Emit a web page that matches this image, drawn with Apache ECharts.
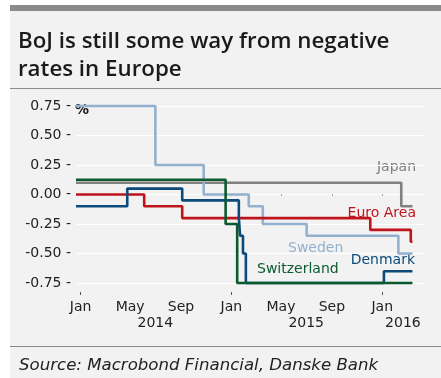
<!DOCTYPE html>
<html><head><meta charset="utf-8">
<script src="https://cdn.jsdelivr.net/npm/echarts@6/dist/echarts.min.js"></script>
<style>html,body{margin:0;padding:0;background:#fff}#c{width:441px;height:378px}</style>
</head><body><div id="c"></div>
<script>
// ---- data ----
const axisStart = '2013-12-21';
const axisEnd = '2016-04-11';
const dataEnd = '2016-03-14';

const japanDates  = ['2013-12-21', '2016-02-16', dataEnd];
const japanValues = [0.10, -0.10, -0.10];

const swedenDates  = ['2013-12-21', '2014-07-01', '2014-10-26', '2015-02-12', '2015-03-18', '2015-07-02', '2016-02-09', dataEnd];
const swedenValues = [0.75, 0.25, 0.00, -0.10, -0.25, -0.35, -0.50, -0.50];

const euroDates  = ['2013-12-21', '2014-06-04', '2014-09-04', '2015-12-03', '2016-03-10', dataEnd];
const euroValues = [0.00, -0.10, -0.20, -0.30, -0.40, -0.40];

const denmarkDates  = ['2013-12-21', '2014-04-24', '2014-09-04', '2015-01-19', '2015-01-22', '2015-01-29', '2015-02-05', '2016-01-05', dataEnd];
const denmarkValues = [-0.10, 0.05, -0.05, -0.20, -0.35, -0.50, -0.75, -0.65, -0.65];

const swissDates  = ['2013-12-21', '2014-12-18', '2015-01-15', dataEnd];
const swissValues = [0.125, -0.25, -0.75, -0.75];

const monthTickDates = ['2014-01-01','2014-05-01','2014-09-01','2015-01-01','2015-05-01','2015-09-01','2016-01-01'];
const monthTickLabels = ['Jan','May','Sep','Jan','May','Sep','Jan'];
const janTickDates = ['2014-01-01','2015-01-01','2016-01-01'];
const yearLabelDates = ['2014-07-01','2015-07-01','2016-02-20'];
const yearLabels = ['2014','2015','2016'];

// ---- build ----
const ts = d => new Date(d + 'T00:00:00Z').getTime();
const pairs = (ds, vs) => ds.map((d, i) => [ts(d), vs[i]]);
const monthMap = {};
monthTickDates.forEach((d, i) => monthMap[ts(d)] = monthTickLabels[i]);
const yearMap = {};
yearLabelDates.forEach((d, i) => yearMap[ts(d)] = yearLabels[i]);

const FONT = 'DejaVu Sans';
const baseX = {
  type: 'value', gridIndex: 0, position: 'bottom',
  min: ts(axisStart), max: ts(axisEnd),
  axisLine: { show: false }, splitLine: { show: false },
  offset: 9
};

const mk = (name, ds, vs, color) => ({
  name, type: 'line', step: 'end', data: pairs(ds, vs), showSymbol: false, clip: false,
  lineStyle: { color, width: 2.6 }, itemStyle: { color }, animation: false
});

const chart = echarts.init(document.getElementById('c'), null, { renderer: 'canvas' });
chart.setOption({
  backgroundColor: '#ffffff',
  animation: false,
  title: [
    { text: 'BoJ is still some way from negative\nrates in Europe', left: 13, top: 23,
      textStyle: { fontFamily: 'Open Sans', fontWeight: 600, fontSize: 22.3, lineHeight: 28, color: '#1a1a1a' } },
    { text: 'Source: Macrobond Financial, Danske Bank', left: 14, top: 352,
      textStyle: { fontFamily: FONT, fontStyle: 'italic', fontWeight: 'normal', fontSize: 16.6, color: '#222' } }
  ],
  grid: { left: 76, right: 17, top: 106, bottom: 95, containLabel: false },
  xAxis: [
    Object.assign({}, baseX, {
      axisTick: { show: true, length: 1, customValues: monthTickDates.map(ts), lineStyle: { color: '#555', width: 1 } },
      axisLabel: { show: true, margin: 8, customValues: monthTickDates.map(ts), formatter: v => monthMap[v] || '',
        fontFamily: FONT, fontSize: 14, color: '#222', hideOverlap: false }
    }),
    Object.assign({}, baseX, {
      axisTick: { show: true, length: 3, customValues: janTickDates.map(ts), lineStyle: { color: '#555', width: 1 } },
      axisLabel: { show: false }
    }),
    Object.assign({}, baseX, {
      axisTick: { show: false },
      axisLabel: { show: true, margin: 24, customValues: yearLabelDates.map(ts), formatter: v => yearMap[v] || '',
        fontFamily: FONT, fontSize: 14, color: '#222', hideOverlap: false }
    })
  ],
  yAxis: {
    type: 'value', min: -0.75, max: 0.75, interval: 0.25,
    axisLine: { show: false }, axisTick: { show: false },
    splitLine: { show: true, lineStyle: { color: '#ffffff', width: 1 } },
    axisLabel: { margin: 5, formatter: v => v.toFixed(2) + ' -', fontFamily: FONT, fontSize: 14, color: '#222' }
  },
  graphic: [
    { type: 'rect', z: -100, silent: true, shape: { x: 10, y: 11, width: 431, height: 367 }, style: { fill: '#f2f2f2' } },
    { type: 'rect', z: -99, silent: true, shape: { x: 10, y: 5, width: 431, height: 6 }, style: { fill: '#8a8a8a' } },
    { type: 'line', z: -99, silent: true, shape: { x1: 10, y1: 88.5, x2: 441, y2: 88.5 }, style: { stroke: '#8a8a8a', lineWidth: 1 } },
    { type: 'line', z: -99, silent: true, shape: { x1: 10, y1: 346.5, x2: 441, y2: 346.5 }, style: { stroke: '#8a8a8a', lineWidth: 1 } },
    { type: 'text', x: 75, y: 110.5, style: { text: '%', font: 'bold 14px "DejaVu Sans"', fill: '#1a1a1a', textVerticalAlign: 'middle' } },
    { type: 'text', x: 416, y: 167, style: { text: 'Japan', font: '14px "DejaVu Sans"', fill: '#808080', textAlign: 'right', textVerticalAlign: 'middle' } },
    { type: 'text', x: 416, y: 213, style: { text: 'Euro Area', font: '14px "DejaVu Sans"', fill: '#c0141c', textAlign: 'right', textVerticalAlign: 'middle' } },
    { type: 'text', x: 288, y: 248, style: { text: 'Sweden', font: '14px "DejaVu Sans"', fill: '#93b1cf', textAlign: 'left', textVerticalAlign: 'middle' } },
    { type: 'text', x: 415, y: 260, style: { text: 'Denmark', font: '14px "DejaVu Sans"', fill: '#0b4a7a', textAlign: 'right', textVerticalAlign: 'middle' } },
    { type: 'text', x: 257, y: 269, style: { text: 'Switzerland', font: '14px "DejaVu Sans"', fill: '#0a5a2e', textAlign: 'left', textVerticalAlign: 'middle' } }
  ],
  series: [
    mk('Japan', japanDates, japanValues, '#808080'),
    mk('Sweden', swedenDates, swedenValues, '#93b1cf'),
    mk('Euro Area', euroDates, euroValues, '#c0141c'),
    mk('Denmark', denmarkDates, denmarkValues, '#0b4a7a'),
    mk('Switzerland', swissDates, swissValues, '#0a5a2e')
  ]
});
</script></body></html>
